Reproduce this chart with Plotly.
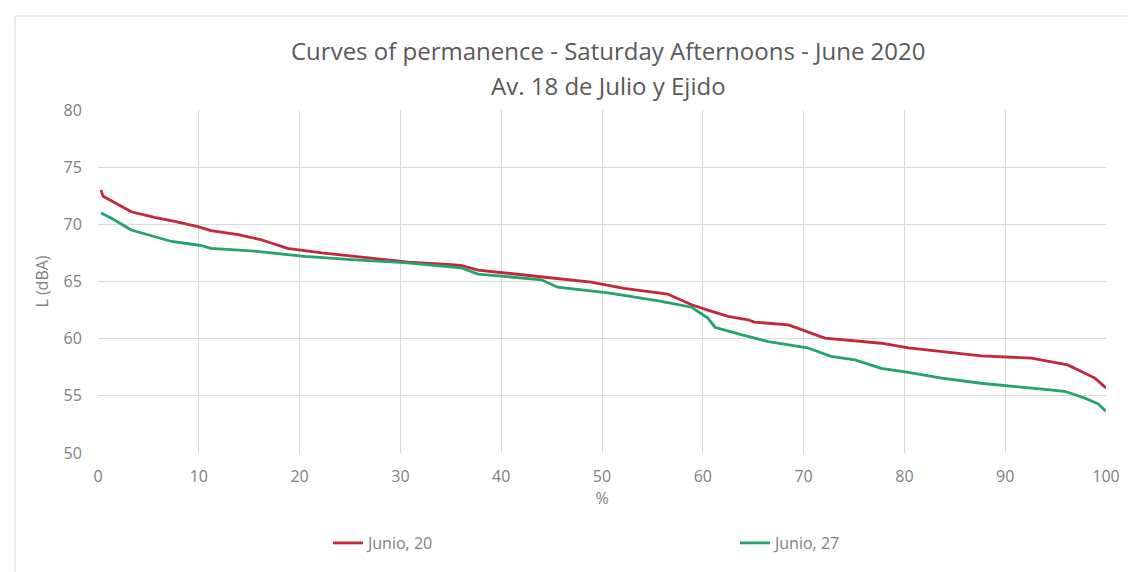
import plotly.graph_objects as go

# Percent of time (x) and level L (dBA) for each curve
x_jun20 = [0.3, 0.5, 3.3, 5.6, 7.6, 9.9, 11.2, 13.9, 16.2, 18.8, 22.2, 25.5, 28.8, 30.8, 34.7,
           36.0, 37.7, 40.7, 44.6, 48.9, 52.2, 56.5, 58.9, 60.5, 62.5, 64.5, 65.1, 68.5, 72.1,
           77.7, 80.4, 87.6, 92.6, 96.2, 97.6, 98.9, 100.0]
y_jun20 = [73.0, 72.45, 71.1, 70.6, 70.25, 69.8, 69.45, 69.1, 68.65, 67.9, 67.5, 67.2, 66.85, 66.7, 66.5,
           66.4, 66.0, 65.7, 65.35, 64.95, 64.4, 63.9, 62.97, 62.5, 61.95, 61.65, 61.45, 61.2, 60.05,
           59.6, 59.2, 58.5, 58.3, 57.7, 57.1, 56.55, 55.7]

x_jun27 = [0.3, 1.3, 3.3, 5.0, 7.3, 10.2, 11.2, 15.5, 20.5, 25.5, 30.4, 34.7, 36.0, 37.7, 44.0,
           45.6, 50.6, 55.6, 58.9, 60.5, 61.2, 63.8, 66.5, 70.4, 72.7, 75.1, 77.7, 80.4, 83.7,
           87.6, 92.6, 95.9, 97.9, 99.2, 100.0]
y_jun27 = [71.0, 70.55, 69.5, 69.1, 68.5, 68.15, 67.9, 67.65, 67.2, 66.9, 66.65, 66.3, 66.2, 65.65, 65.15,
           64.5, 64.0, 63.3, 62.75, 61.8, 61.0, 60.35, 59.75, 59.2, 58.45, 58.15, 57.4, 57.05, 56.55,
           56.1, 55.7, 55.4, 54.8, 54.3, 53.65]

series_names = ["Junio, 20", "Junio, 27"]
x_ticks = [0, 10, 20, 30, 40, 50, 60, 70, 80, 90, 100]
y_ticks = [50, 55, 60, 65, 70, 75, 80]
title_line1 = "Curves of permanence - Saturday Afternoons - June 2020"
title_line2 = "Av. 18 de Julio y Ejido"

FONT = "Open Sans"
GRAY = "#808080"
TITLE_GRAY = "#595959"
PL, PR, PT, PB = 90, 1098, 102, 445   # plot area in pixels
PW, PH = PR - PL, PB - PT

fig = go.Figure()
fig.add_trace(go.Scatter(x=x_jun20, y=y_jun20, mode="lines", name=series_names[0],
                         line=dict(color="#C2283A", width=2.8)))
fig.add_trace(go.Scatter(x=x_jun27, y=y_jun27, mode="lines", name=series_names[1],
                         line=dict(color="#24A36A", width=2.8)))

fig.update_layout(
    width=1135, height=572,
    margin=dict(l=PL, r=1135 - PR, t=PT, b=572 - PB, autoexpand=False),
    paper_bgcolor="white", plot_bgcolor="white",
    font=dict(family=FONT, color=GRAY, size=16),
    xaxis=dict(range=[0, 100], tickvals=x_ticks, showgrid=True, gridcolor="#D9D9D9", gridwidth=1,
               zeroline=False, showline=False, ticks="outside", ticklen=9, tickcolor="rgba(0,0,0,0)",
               automargin=False,
               title=dict(text="%", font=dict(size=16, color=GRAY), standoff=6),
               tickfont=dict(size=16, color=GRAY)),
    yaxis=dict(range=[50, 80], tickvals=y_ticks, showgrid=True, gridcolor="#D9D9D9", gridwidth=1,
               zeroline=False, showline=False, ticks="outside", ticklen=12, tickcolor="rgba(0,0,0,0)",
               automargin=False,
               title=dict(text="L (dBA)", font=dict(size=16, color=GRAY), standoff=10),
               tickfont=dict(size=16, color=GRAY)),
    legend=dict(orientation="h", x=(320 - PL) / PW, xanchor="left", y=(PB - 535) / PH, yanchor="middle",
                entrywidth=362, entrywidthmode="pixels",
                font=dict(size=16, color=GRAY), bgcolor="rgba(0,0,0,0)"),
    showlegend=True,
)

# two title lines (Excel-style spacing)
for txt, py in [(title_line1, 43), (title_line2, 77)]:
    fig.add_annotation(text=txt, xref="paper", yref="paper",
                       x=(600 - PL) / PW, y=1 + (PT - py) / PH, xanchor="center", yanchor="middle",
                       showarrow=False, font=dict(family=FONT, size=24, color=TITLE_GRAY))

# light outer frame of the chart area
fig.add_shape(type="rect", xref="paper", yref="paper",
              x0=(7 - PL) / PW, x1=(1132 - PL) / PW, y0=-0.5, y1=1 + (PT - 8) / PH,
              line=dict(color="#D9D9D9", width=1), fillcolor="rgba(0,0,0,0)", layer="below")

fig.write_html("out.html")
